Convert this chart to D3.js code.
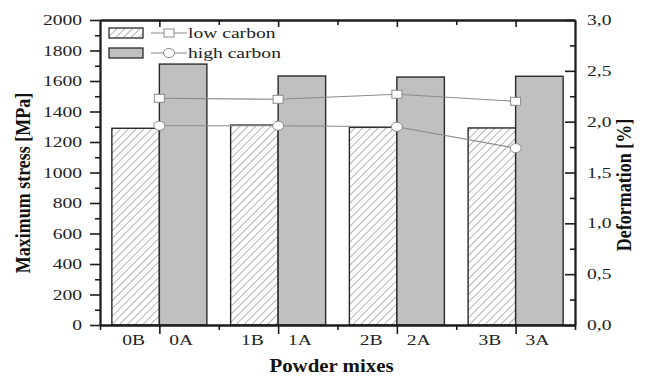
<!DOCTYPE html>
<html>
<head>
<meta charset="utf-8">
<script src="https://cdn.jsdelivr.net/npm/d3@7"></script>
<style>
  html, body { margin: 0; padding: 0; background: #fff; }
  svg { display: block; }
</style>
</head>
<body>
<svg id="chart"></svg>
<script>
// data
const groups = ['0', '1', '2', '3'];
const lowLabels = ['0B', '1B', '2B', '3B'];
const highLabels = ['0A', '1A', '2A', '3A'];
const lowStress = [1290, 1311, 1296, 1292];
const highStress = [1711, 1633, 1626, 1631];
const lowDeform = [2.23, 2.22, 2.27, 2.20];
const highDeform = [1.96, 1.96, 1.95, 1.74];
const stressTicks = [0, 200, 400, 600, 800, 1000, 1200, 1400, 1600, 1800, 2000];
const deformTicks = [0, 0.5, 1.0, 1.5, 2.0, 2.5, 3.0];
const seriesNames = ['low carbon', 'high carbon'];

const W = 657, H = 376;
const margin = { top: 20, right: 82, bottom: 51, left: 100 };
const plotL = margin.left, plotR = W - margin.right, plotT = margin.top, plotB = H - margin.bottom;
const SX = 1.35;   // the source figure is stretched sideways
const FONT = '"Liberation Serif", "Times New Roman", serif';
const INK = '#1c1c1c';

const svg = d3.select('#chart').attr('width', W).attr('height', H)
  .style('font-family', FONT);

const defs = svg.append('defs');
const hatch = defs.append('pattern')
  .attr('id', 'hatch')
  .attr('patternUnits', 'userSpaceOnUse')
  .attr('width', 5.5).attr('height', 5.5)
  .attr('patternTransform', 'rotate(45)');
hatch.append('rect').attr('width', 5.5).attr('height', 5.5).attr('fill', '#fff');
hatch.append('line')
  .attr('x1', 0).attr('y1', 0).attr('x2', 0).attr('y2', 5.5)
  .attr('stroke', '#444').attr('stroke-width', 0.8);

// scales
const xGroup = d3.scaleBand().domain(groups).range([plotL, plotR]).padding(0);
const xSub = d3.scaleBand().domain(['low', 'high']).range([0, xGroup.bandwidth()])
  .paddingInner(0).paddingOuter(0.25);
const xCenter = d3.scalePoint().domain(groups).range([plotL, plotR]).padding(0.5);
const xEdge = d3.scaleLinear().domain([0, groups.length]).range([plotL, plotR]);
const yStress = d3.scaleLinear().domain([0, 2000]).range([plotB, plotT]);
const yDeform = d3.scaleLinear().domain([0, 3]).range([plotB, plotT]);

const bars = groups.flatMap((g, i) => [
  { g, key: 'low', value: lowStress[i], label: lowLabels[i] },
  { g, key: 'high', value: highStress[i], label: highLabels[i] }
]);

// bars
svg.append('g').selectAll('rect')
  .data(bars)
  .join('rect')
  .attr('x', d => xGroup(d.g) + xSub(d.key))
  .attr('y', d => yStress(d.value))
  .attr('width', xSub.bandwidth())
  .attr('height', d => plotB - yStress(d.value))
  .attr('fill', d => d.key === 'low' ? 'url(#hatch)' : '#c0c0c0')
  .attr('stroke', '#2a2a2a')
  .attr('stroke-width', 1.4);

// deformation lines
const lineGen = d3.line().x((d, i) => xCenter(groups[i])).y(d => yDeform(d));
const seriesDef = [
  { name: seriesNames[0], values: lowDeform, marker: 'square' },
  { name: seriesNames[1], values: highDeform, marker: 'circle' }
];

function drawMarker(sel, type, x, y) {
  if (type === 'square') {
    sel.append('rect')
      .attr('x', x - 5).attr('y', y - 4).attr('width', 10).attr('height', 8)
      .attr('fill', '#fff').attr('stroke', '#8a8a8a').attr('stroke-width', 1);
  } else {
    sel.append('ellipse')
      .attr('cx', x).attr('cy', y).attr('rx', 5.5).attr('ry', 4.6)
      .attr('fill', '#fff').attr('stroke', '#8a8a8a').attr('stroke-width', 1);
  }
}

seriesDef.forEach(s => {
  const g = svg.append('g');
  g.append('path')
    .attr('d', lineGen(s.values))
    .attr('fill', 'none').attr('stroke', '#8a8a8a').attr('stroke-width', 1.1);
  s.values.forEach((v, i) => drawMarker(g, s.marker, xCenter(groups[i]), yDeform(v)));
});

// axes
function styleAxis(g) {
  g.selectAll('path.domain').attr('stroke', INK).attr('stroke-width', 1.8);
  g.selectAll('.tick line').attr('stroke', INK).attr('stroke-width', 1.6);
  g.selectAll('text').attr('font-family', FONT).attr('font-size', 14.5).attr('fill', '#222');
}

// left
const leftMinor = svg.append('g').attr('transform', `translate(${plotL},0)`)
  .call(d3.axisLeft(yStress).tickValues(d3.range(100, 2000, 200)).tickSize(5).tickFormat('').tickSizeOuter(0));
styleAxis(leftMinor);
const leftAxis = svg.append('g').attr('transform', `translate(${plotL},0)`)
  .call(d3.axisLeft(yStress).tickValues(stressTicks).tickSize(10).tickPadding(8)
    .tickFormat(d3.format('d')).tickSizeOuter(0));
styleAxis(leftAxis);
leftAxis.selectAll('text')
  .attr('x', -18 / SX)
  .attr('transform', `scale(${SX},1)`);

// right
const fmtComma = d => d3.format('.1f')(d).replace('.', ',');
const rightMinor = svg.append('g').attr('transform', `translate(${plotR},0)`)
  .call(d3.axisRight(yDeform).tickValues(d3.range(0.25, 3, 0.5)).tickSize(-5).tickFormat('').tickSizeOuter(0));
styleAxis(rightMinor);
const rightAxis = svg.append('g').attr('transform', `translate(${plotR},0)`)
  .call(d3.axisRight(yDeform).tickValues(deformTicks).tickSize(-10).tickPadding(12)
    .tickFormat(fmtComma).tickSizeOuter(0));
styleAxis(rightAxis);
rightAxis.selectAll('text')
  .attr('x', 12 / SX)
  .attr('transform', `scale(${SX},1)`);

// bottom
const bottomMinor = svg.append('g').attr('transform', `translate(0,${plotB})`)
  .call(d3.axisBottom(xEdge).tickValues(d3.range(0, groups.length + 1)).tickSize(5).tickFormat('').tickSizeOuter(0));
styleAxis(bottomMinor);
const bottomMajor = svg.append('g').attr('transform', `translate(0,${plotB})`)
  .call(d3.axisBottom(xCenter).tickSize(9).tickFormat('').tickSizeOuter(0));
styleAxis(bottomMajor);

// top (ticks inward)
const topMinor = svg.append('g').attr('transform', `translate(0,${plotT})`)
  .call(d3.axisTop(xEdge).tickValues(d3.range(1, groups.length)).tickSize(-5).tickFormat('').tickSizeOuter(0));
styleAxis(topMinor);
const topMajor = svg.append('g').attr('transform', `translate(0,${plotT})`)
  .call(d3.axisTop(xCenter).tickSize(-7).tickFormat('').tickSizeOuter(0));
styleAxis(topMajor);

// bar labels under axis
svg.append('g').selectAll('text')
  .data(bars)
  .join('text')
  .attr('transform', d => `translate(${xGroup(d.g) + xSub(d.key) + xSub.bandwidth() / 2 - 2},${plotB + 20}) scale(${SX},1)`)
  .attr('text-anchor', 'middle')
  .attr('font-size', 14.5)
  .attr('fill', '#222')
  .text(d => d.label);

// legend
const legend = svg.append('g').attr('transform', `translate(${plotL + 9},${plotT + 8})`);
seriesDef.forEach((s, i) => {
  const row = legend.append('g').attr('transform', `translate(0,${i * 20})`);
  row.append('rect')
    .attr('width', 34).attr('height', 10)
    .attr('fill', i === 0 ? 'url(#hatch)' : '#c0c0c0')
    .attr('stroke', '#2a2a2a').attr('stroke-width', 1.3);
  row.append('line')
    .attr('x1', 42).attr('x2', 78).attr('y1', 5).attr('y2', 5)
    .attr('stroke', '#8a8a8a').attr('stroke-width', 1.1);
  drawMarker(row, s.marker, 60, 5);
  row.append('text')
    .attr('transform', `translate(79,10) scale(${SX},1)`)
    .attr('font-size', 14.5)
    .attr('fill', '#222')
    .text(s.name);
});

// axis titles
svg.append('text')
  .attr('transform', `translate(${(plotL + plotR) / 2 - 6},${H - 4}) scale(1.16,1)`)
  .attr('text-anchor', 'middle')
  .attr('font-size', 18).attr('font-weight', 'bold').attr('fill', '#111')
  .text('Powder mixes');

svg.append('text')
  .attr('transform', `translate(30,183) rotate(-90) scale(1,1.2)`)
  .attr('text-anchor', 'middle')
  .attr('font-size', 18).attr('font-weight', 'bold').attr('fill', '#111')
  .text('Maximum stress [MPa]');

svg.append('text')
  .attr('transform', `translate(631,185) rotate(-90) scale(1,1.2)`)
  .attr('text-anchor', 'middle')
  .attr('font-size', 18).attr('font-weight', 'bold').attr('fill', '#111')
  .text('Deformation [%]');
</script>
</body>
</html>
